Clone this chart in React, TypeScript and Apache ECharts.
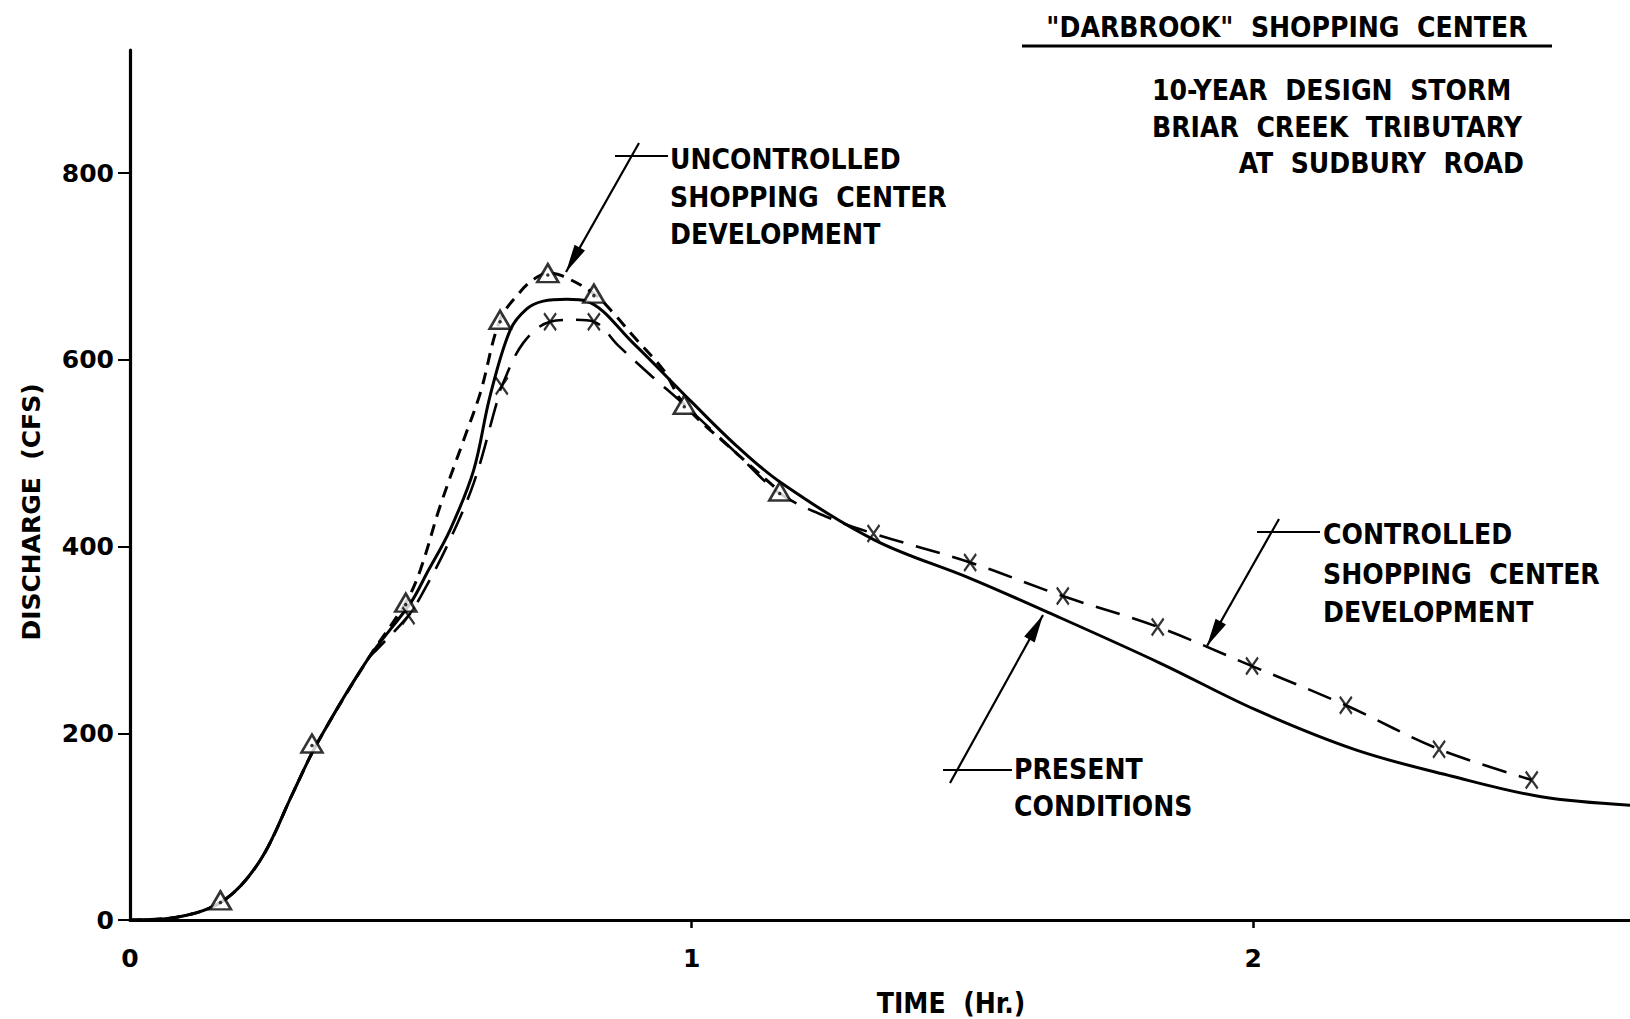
import React, { useEffect, useRef } from "react";
import * as echarts from "echarts";

// ---- data (time in hours, discharge in cfs) ----
const presentT = [0, 0.083, 0.167, 0.232, 0.29, 0.333, 0.423, 0.5, 0.529, 0.57, 0.612, 0.641, 0.677, 0.707, 0.736, 0.778, 0.813, 0.896, 1.0, 1.08, 1.158, 1.326, 1.496, 1.637, 1.835, 2.005, 2.184, 2.354, 2.513, 2.671];
const presentQ = [0, 3, 21, 64, 136, 189, 279, 340, 372, 418, 482, 561, 632, 655, 663, 665, 663, 618, 555, 508, 469, 407, 366, 329, 275, 225, 182, 154, 132, 123];

const uncontrolledT = [0, 0.083, 0.167, 0.232, 0.29, 0.333, 0.423, 0.491, 0.517, 0.552, 0.594, 0.624, 0.659, 0.695, 0.718, 0.744, 0.77, 0.826, 0.861, 0.897, 0.95, 0.987, 1.08, 1.157];
const uncontrolledQ = [0, 3, 21, 64, 136, 189, 279, 340, 375, 443, 514, 565, 643, 673, 686, 693, 690, 671, 650, 625, 589, 552, 500, 459];

const controlledT = [0, 0.083, 0.167, 0.232, 0.29, 0.333, 0.423, 0.44, 0.496, 0.517, 0.564, 0.612, 0.653, 0.662, 0.7, 0.748, 0.79, 0.826, 0.87, 0.93, 0.987, 1.08, 1.157, 1.24, 1.324, 1.496, 1.661, 1.83, 1.998, 2.165, 2.331, 2.496];
const controlledQ = [0, 3, 21, 64, 136, 189, 279, 290, 326, 346, 400, 468, 554, 572, 618, 641, 643, 641, 615, 582, 552, 500, 457, 432, 414, 383, 347, 314, 272, 230, 183, 150];

// plotted symbols
const triangleT = [0.161, 0.324, 0.491, 0.659, 0.744, 0.826, 0.987, 1.157];
const triangleQ = [21, 189, 340, 643, 693, 671, 552, 459];
const crossT = [0.496, 0.662, 0.748, 0.826, 1.324, 1.496, 1.661, 1.83, 1.998, 2.165, 2.331, 2.496];
const crossQ = [326, 572, 641, 641, 414, 383, 347, 314, 272, 230, 183, 150];

// axes
const xTicks = [0, 1, 2];
const xTickMarks = [1, 2];
const yTicks = [0, 200, 400, 600, 800];
const xMax = 2.671;
const yMax = 932;

const zip = (a: number[], b: number[]) => a.map((v, i) => [v, b[i]]);

const COND = '"DejaVu Sans Condensed", "DejaVu Sans", sans-serif';
const WIDE = '"DejaVu Sans", sans-serif';

function arrowHead(sx: number, sy: number, tx: number, ty: number, len = 28, half = 6) {
  const dx = tx - sx, dy = ty - sy;
  const L = Math.sqrt(dx * dx + dy * dy);
  const ux = dx / L, uy = dy / L;
  const bx = tx - ux * len, by = ty - uy * len;
  const nx = -uy, ny = ux;
  return [
    [tx, ty],
    [bx + nx * half, by + ny * half],
    [bx - nx * half, by - ny * half],
  ];
}

function txt(x: number, y: number, s: string, align = "left", size = 28, font = COND, rotation = 0) {
  return {
    type: "text",
    x,
    y,
    rotation,
    style: {
      text: s,
      fill: "#000",
      font: `bold ${size}px ${font}`,
      textAlign: align,
      textVerticalAlign: "middle",
    },
    z: 10,
  };
}

function seg(x1: number, y1: number, x2: number, y2: number, w = 2) {
  return { type: "line", shape: { x1, y1, x2, y2 }, style: { stroke: "#000", lineWidth: w }, z: 10 };
}

function arrow(sx: number, sy: number, tx: number, ty: number) {
  return [
    seg(sx, sy, tx, ty, 2.2),
    { type: "polygon", shape: { points: arrowHead(sx, sy, tx, ty) }, style: { fill: "#000" }, z: 10 },
  ];
}

export default function App() {
  const ref = useRef<HTMLDivElement>(null);
  useEffect(() => {
    if (!ref.current) return;
    const chart = echarts.init(ref.current, null, { renderer: "svg" });
    const option: any = {
      animation: false,
      backgroundColor: "#fff",
      grid: { left: 130, top: 50, right: 0, bottom: 99, containLabel: false },
      xAxis: {
        type: "value",
        min: 0,
        max: xMax,
        axisLine: { show: true, lineStyle: { color: "#000", width: 3.2 } },
        axisTick: { show: true, customValues: xTickMarks, length: 8, lineStyle: { color: "#000", width: 2.5 } },
        axisLabel: {
          customValues: xTicks,
          margin: 26,
          color: "#000",
          fontFamily: WIDE,
          fontWeight: "bold",
          fontSize: 25,
          formatter: (v: number) => String(v),
        },
        splitLine: { show: false },
      },
      yAxis: {
        type: "value",
        min: 0,
        max: yMax,
        axisLine: { show: true, lineStyle: { color: "#000", width: 3.2 } },
        axisTick: { show: true, customValues: yTicks, length: 12, lineStyle: { color: "#000", width: 2 } },
        axisLabel: {
          customValues: yTicks,
          margin: 16,
          color: "#000",
          fontFamily: WIDE,
          fontWeight: "bold",
          fontSize: 25,
        },
        splitLine: { show: false },
      },
      series: [
        {
          name: "PRESENT CONDITIONS",
          type: "line",
          data: zip(presentT, presentQ),
          smooth: 0.35,
          showSymbol: false,
          lineStyle: { color: "#000", width: 3, type: "solid" },
          z: 3,
        },
        {
          name: "UNCONTROLLED SHOPPING CENTER DEVELOPMENT",
          type: "line",
          data: zip(uncontrolledT, uncontrolledQ),
          smooth: 0.35,
          showSymbol: false,
          lineStyle: { color: "#000", width: 3, type: [12, 8] },
          z: 3,
        },
        {
          name: "CONTROLLED SHOPPING CENTER DEVELOPMENT",
          type: "line",
          data: zip(controlledT, controlledQ),
          smooth: 0.35,
          showSymbol: false,
          lineStyle: { color: "#000", width: 2.6, type: [25, 13] },
          z: 3,
        },
        {
          type: "scatter",
          data: zip(triangleT, triangleQ),
          symbol: "triangle",
          symbolSize: [21, 18],
          itemStyle: { color: "#fff", borderColor: "#000", borderWidth: 2.6 },
          z: 5,
        },
        {
          type: "scatter",
          data: zip(triangleT, triangleQ),
          symbol: "circle",
          symbolSize: 3.5,
          symbolOffset: [0, 2],
          itemStyle: { color: "#000" },
          z: 6,
        },
        {
          type: "scatter",
          data: zip(crossT, crossQ),
          symbol: "path://M0,0L10,14M10,0L0,14",
          symbolSize: [12, 17],
          itemStyle: { color: "rgba(0,0,0,0)", borderColor: "#000", borderWidth: 2.4 },
          z: 6,
        },
      ],
      graphic: [
        // y axis title
        txt(31, 512, "DISCHARGE  (CFS)", "center", 25, WIDE, Math.PI / 2),
        // title block
        txt(1287, 27, '"DARBROOK"  SHOPPING  CENTER', "center"),
        seg(1022, 46, 1552, 46, 3),
        txt(1152, 90, "10-YEAR  DESIGN  STORM"),
        txt(1152, 127, "BRIAR  CREEK  TRIBUTARY"),
        txt(1524, 163, "AT  SUDBURY  ROAD", "right"),
        // uncontrolled label
        txt(670, 159, "UNCONTROLLED"),
        txt(670, 197, "SHOPPING  CENTER"),
        txt(670, 234, "DEVELOPMENT"),
        seg(615, 156, 668, 156, 2),
        ...arrow(639, 143, 566, 272),
        // controlled label
        txt(1323, 534, "CONTROLLED"),
        txt(1323, 574, "SHOPPING  CENTER"),
        txt(1323, 612, "DEVELOPMENT"),
        seg(1257, 532, 1320, 532, 2),
        ...arrow(1279, 519, 1207, 646),
        // present label
        txt(1014, 769, "PRESENT"),
        txt(1014, 806, "CONDITIONS"),
        seg(943, 770, 1012, 770, 2),
        ...arrow(950, 783, 1043, 615),
        // x axis title
        txt(951, 1003, "TIME  (Hr.)", "center"),
      ],
    };
    chart.setOption(option);
    return () => chart.dispose();
  }, []);
  return <div ref={ref} style={{ position: "fixed", left: 0, top: 0, width: 1630, height: 1019, background: "#fff" }} />;
}
